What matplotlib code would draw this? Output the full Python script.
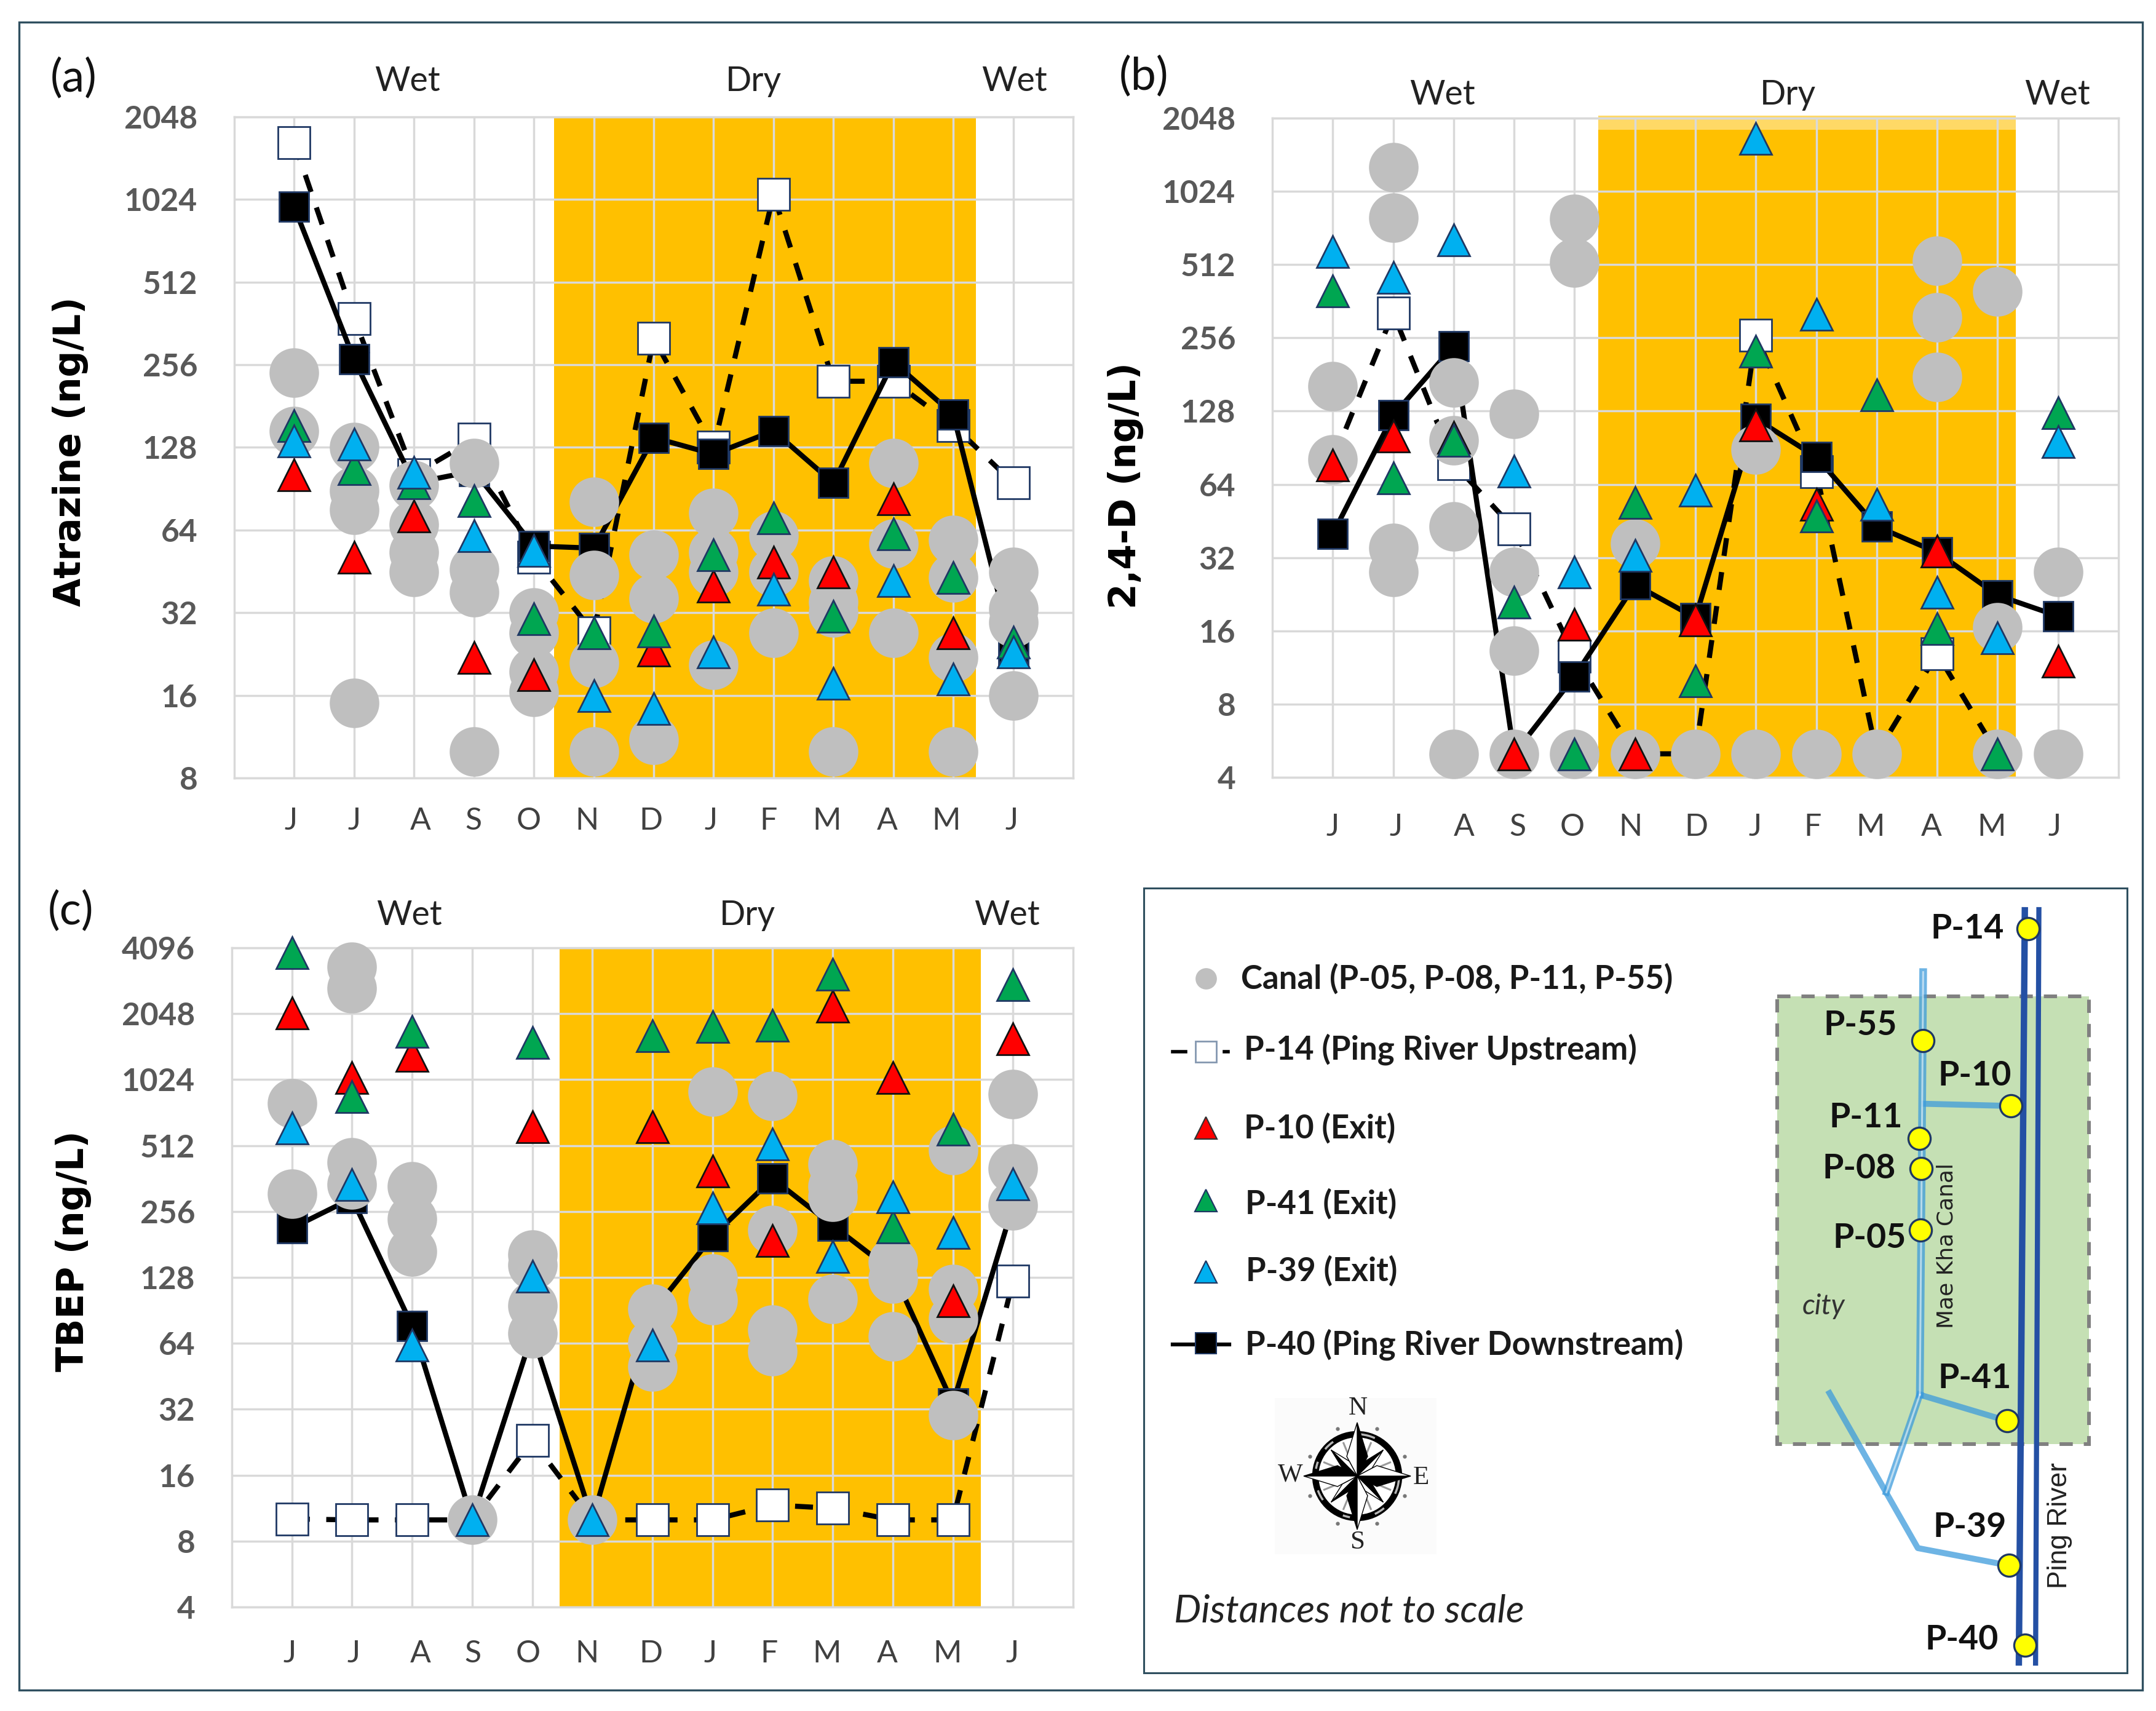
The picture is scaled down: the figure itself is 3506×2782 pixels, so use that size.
import numpy as np
import matplotlib
matplotlib.use("Agg")
import matplotlib.pyplot as plt
from matplotlib.patches import Rectangle, Circle, Polygon, Arc
from matplotlib.transforms import ScaledTranslation

W, H = 3506, 2782
nan = np.nan
months = ["J", "J", "A", "S", "O", "N", "D", "J", "F", "M", "A", "M", "J"]

# ---- panel (a) Atrazine
a_p14 = [1652, 378, 102, 137, 51, 27, 319, 128, 1067, 223, 223, 154, 95]
a_p40 = [962, 268, 95, 105, 56, 55, 139, 121, 147, 95, 262, 169, 23]
a_p10 = [102, 51, 72, 22, 19, nan, 23.4, 40, 49, 45, 83, 27, nan]
a_p41 = [154, 107, 95, 82, 30.4, 27, 27.5, 52, 71, 31, 62, 43, 25]
a_p39 = [135, 132, 104, 61, 54, 16, 14.3, 23, 39, 17.7, 42, 18.4, 23]
a_canal = [[239, 147], [128, 89, 76, 15], [93, 67, 53, 45], [112, 46, 38, 10],
           [32, 27, 19.5, 16.5], [81, 44, 21, 10], [52, 36, 11], [74, 53, 45, 20.7],
           [61, 45, 27], [42, 35, 32, 10], [112, 57, 27], [59, 43, 22, 10],
           [45, 33, 29.5, 16]]

# ---- panel (b) 2,4-D
b_p14 = [80, 324, 78, 42, 12.6, 5, 5, 262, 72, 5, 12.9, 5, nan]
b_p40 = [40, 123, 237, 5, 10.4, 24.8, 18.1, 119, 83, 43, 33.6, 22.4, 18.4]
b_p10 = [77, 101, 100, 5, 17, 5, 17.7, 112, 53, nan, 34, nan, 12]
b_p41 = [399, 68, 97, 21, 5, 54, 10, 226, 47.5, 149, 16.4, 5, 126]
b_p39 = [580, 455, 648, 72.6, 28, 32.7, 60.5, 1687, 320, 53, 23, 15, 96]
b_canal = [[162, 81], [1287, 797, 35, 28], [168, 97, 43, 5], [125, 28, 13.3, 5],
           [787, 523, 5], [36.5, 5], [5], [89, 5], [5], [5], [530, 311, 177],
           [396, 16.5, 5], [28, 5]]

# ---- panel (c) TBEP
c_p14 = [10.1, 10, 10, 10, 23, 10, 10, 10, 11.7, 11.3, 10, 10, 123]
c_p40 = [215, 294, 77, 10, 71, 10, 89, 197, 362, 221, 136, 34, 272]
c_p10 = [2064, 1045, 1323, nan, 625, nan, 625, 391, 189, 2210, 1045, 100, 1573]
c_p41 = [3900, 855, 1698, nan, 1509, nan, 1627, 1795, 1810, 3110, 217, 608, 2780]
c_p39 = [617, 340, 63, 10, 130, 10, 63, 265, 519, 159, 298, 205, 343]
c_canal = [[798, 308], [3350, 2670, 430, 340], [333, 237, 168], [10],
           [163, 146, 95, 71], [10], [92, 64, 50], [905, 126, 101],
           [862, 211, 74, 59], [420, 333, 298, 102], [150, 126, 69],
           [488, 113, 83, 30], [880, 403, 273]]

NAVY, BLACK, GREY = "#1F3864", "#000000", "#BFBFBF"
RED, GREEN, BLUE = "#FF0000", "#00A651", "#00B0F0"
ORANGE, GRID = "#FFC000", "#D9D9D9"
TICKC = "#595959"
LAT = ["Lato", "DejaVu Sans"]

fig = plt.figure(figsize=(W / 100, H / 100), dpi=100, facecolor="white")

# overlay in pixel coordinates for frames, headers and the schematic map
ov = fig.add_axes([0, 0, 1, 1], zorder=0)
ov.set_xlim(0, W); ov.set_ylim(H, 0); ov.axis("off")


def panel(box, ymin, ymax, band, ylabel, ylab_pos, label, label_pos, seasons, data, canal, shift, pad, strip=False):
    l, r, t, b = box
    ax = fig.add_axes([l / W, 1 - b / H, (r - l) / W, (b - t) / H], zorder=2)
    ax.patch.set_alpha(0)
    ax.set_yscale("log", base=2)
    ax.set_xlim(-1, 13); ax.set_ylim(ymin, ymax)
    x = np.arange(13)
    ax.axvspan(band[0], band[1], color=ORANGE, lw=0, zorder=0.5)
    if strip:
        ax.axvspan(band[0], band[1], ymin=0.982, ymax=1.004, color="#FFD966", lw=0, zorder=0.6, clip_on=False)
    ax.set_axisbelow(False)
    ax.grid(True, which="major", color=GRID, lw=2.5, zorder=1)
    for gl in ax.get_xgridlines() + ax.get_ygridlines():
        gl.set_zorder(1)
    for s in ax.spines.values():
        s.set_color(GRID); s.set_linewidth(2.5); s.set_zorder(1)

    yt = [ymin * 2 ** i for i in range(int(np.log2(ymax / ymin)) + 1)]
    ax.set_yticks(yt)
    ax.minorticks_off()
    ax.set_yticklabels([str(int(v)) for v in yt], fontweight="bold", family=LAT, fontsize=37, color=TICKC)
    ax.tick_params(axis="y", length=0, pad=43)
    ax.set_xticks(x); ax.set_xticklabels(months, family=LAT, fontsize=36, color="#404040")
    ax.tick_params(axis="x", length=0, pad=pad)
    for t_, dx in zip(ax.get_xticklabels(), shift):
        t_.set_transform(t_.get_transform() + ScaledTranslation(dx * 1.14 / 100, 0, fig.dpi_scale_trans))

    p14, p40, p10, p41, p39 = data
    ax.plot(x, p14, color=BLACK, lw=6, dashes=(3.5, 3.2), zorder=3, clip_on=False)
    ax.plot(x, p14, ls="none", marker="s", ms=37, mfc="white", mec=NAVY, mew=2, zorder=3.2, clip_on=False)
    ax.plot(x, p40, color=BLACK, lw=6, zorder=4, clip_on=False)
    ax.plot(x, p40, ls="none", marker="s", ms=35, mfc=BLACK, mec=NAVY, mew=2, zorder=4.2, clip_on=False)
    cx = np.concatenate([[i] * len(v) for i, v in enumerate(canal)])
    cy = np.concatenate(canal)
    ax.plot(cx, cy, ls="none", marker="o", ms=58, mfc=GREY, mec="none", zorder=5, clip_on=False)
    for vals, col, ec, z in ((p10, RED, "#111111", 6), (p41, GREEN, NAVY, 7), (p39, BLUE, NAVY, 8)):
        ax.plot(x, vals, ls="none", marker="^", ms=38, mfc=col, mec=ec, mew=2, zorder=z, clip_on=False)

    ov.text(ylab_pos[0], ylab_pos[1], ylabel, rotation=90, ha="center", va="center",
            fontsize=43, fontweight="bold", family="DejaVu Sans", color="black")
    ov.text(label_pos[0], label_pos[1], label, ha="center", va="center", fontsize=53, family=LAT, color="#111111")
    for (sx, sy, st) in seasons:
        ov.text(sx, sy, st, ha="center", va="center", fontsize=40, family=LAT, color="#222222")
    return ax


shift_a = [-5, 0, 9, -1, -7, -10, -4, -4, -7, -9, -9, -10, -2]
shift_b = [0, 4, 15, 5, -3, -6, 1, -1, -5, -9, -8, -9, -5]
shift_c = [-3, 2, 12, 1, -6, -8, -2, -3, -5, -8, -8, -8, -1]

panel((381, 1745, 190, 1265), 8, 2048, (4.34, 11.38), "Atrazine (ng/L)", (115, 734), "(a)", (120, 128),
      [(663, 132, "Wet"), (1225, 132, "Dry"), (1650, 132, "Wet")],
      (a_p14, a_p40, a_p10, a_p41, a_p39), a_canal, shift_a, 34)
panel((2069, 3445, 192, 1264), 4, 2048, (4.39, 11.3), "2,4-D (ng/L)", (1831, 790), "(b)", (1860, 125),
      [(2346, 154, "Wet"), (2907, 154, "Dry"), (3346, 154, "Wet")],
      (b_p14, b_p40, b_p10, b_p41, b_p39), b_canal, shift_b, 42, strip=True)
panel((377, 1745, 1541, 2613), 4, 4096, (4.45, 11.47), "TBEP (ng/L)", (120, 2034), "(c)", (115, 1482),
      [(666, 1488, "Wet"), (1215, 1488, "Dry"), (1638, 1488, "Wet")],
      (c_p14, c_p40, c_p10, c_p41, c_p39), c_canal, shift_c, 38)

# ---- frames
FR = "#2F4F5F"
ov.add_patch(Rectangle((31, 36), 3453, 2712, fc="none", ec=FR, lw=2.4))
ov.add_patch(Rectangle((1860, 1444), 1599, 1276, fc="white", ec=FR, lw=2.2))


def P(dx, dy):
    return 1800 + 1.088 * dx, 1400 + 0.881 * dy


# ---- legend panel
legend_rows = [("Canal (P-05, P-08, P-11, P-55)", 200, 217), ("P-14 (Ping River Upstream)", 205, 347),
               ("P-10 (Exit)", 205, 493), ("P-41 (Exit)", 207, 632), ("P-39 (Exit)", 208, 756),
               ("P-40 (Ping River Downstream)", 207, 892)]
for s, dx, dy in legend_rows:
    px, py = P(dx, dy)
    ov.text(px, py, s, ha="left", va="center", fontsize=38, fontweight="bold", family=LAT, color="#1a1a1a")
mx, _ = P(148, 0)
ov.plot([mx], [P(0, 217)[1]], marker="o", ms=25, mfc=GREY, mec="none", ls="none")
ov.plot([P(98, 0)[0], P(118, 0)[0]], [P(0, 352)[1]] * 2, color="black", lw=4)
ov.plot([P(176, 0)[0], P(181, 0)[0]], [P(0, 352)[1]] * 2, color="black", lw=4)
ov.plot([mx], [P(0, 352)[1]], marker="s", ms=25, mfc="white", mec="#8497B0", mew=2, ls="none")
for col, dy in ((RED, 493), (GREEN, 627), (BLUE, 758)):
    ov.plot([mx], [P(0, dy)[1]], marker="^", ms=26, mfc=col, mec=NAVY if col != RED else "#333333", mew=1.6, ls="none")
ov.plot([P(98, 0)[0], P(183, 0)[0]], [P(0, 892)[1]] * 2, color="black", lw=4.5)
ov.plot([mx], [P(0, 890)[1]], marker="s", ms=24, mfc="black", mec=NAVY, mew=1.5, ls="none")
ov.text(*P(100, 1385), "Distances not to scale", ha="left", va="center", fontsize=45, style="italic", family=LAT, color="#222222")

# ---- compass
ov.add_patch(Rectangle((2073, 2273), 263, 254, fc="#FBFBFB", ec="none"))
ccx, ccy = 2207, 2400
ctr = np.array([ccx, ccy], float)
ov.add_patch(Circle((ccx, ccy), 68, fc="white", ec="#000000", lw=7.5, zorder=2.5))
for a0, a1 in ((5, 25), (95, 115), (140, 155), (190, 200), (235, 250), (280, 290), (310, 325)):
    ov.add_patch(Arc((ccx, ccy), 136, 136, theta1=a0 - 90, theta2=a1 - 90, color="#B5B5B5", lw=2.5, zorder=2.6))
tick_ang = np.deg2rad(22.5 + 45 * np.arange(8))
ov.plot(ccx + 83 * np.sin(tick_ang), ccy - 83 * np.cos(tick_ang), ls="none", marker="o", ms=3.5, color="#777777", zorder=2.6)
for k in range(8):
    ang = k * np.pi / 4 + np.pi / 8
    tip = ctr + 58 * np.array([np.sin(ang), -np.cos(ang)])
    ov.plot([ccx, tip[0]], [ccy, tip[1]], color="#999999", lw=2.2, zorder=2.7)
for k in range(8):
    ang = k * np.pi / 4
    card = k % 2 == 0
    L, sa, sw = (87, 32, 17) if card else (60, 26, 8)
    al = np.array([np.sin(ang), -np.cos(ang)])
    ac = np.array([np.cos(ang), np.sin(ang)])
    tip = ctr + L * al
    s1 = ctr + sa * al + sw * ac
    s2 = ctr + sa * al - sw * ac
    ov.add_patch(Polygon([ctr, s1, tip], fc="black" if card else "white", ec="black", lw=1, zorder=3))
    ov.add_patch(Polygon([ctr, s2, tip], fc="white" if card else "black", ec="black", lw=1, zorder=3))
for s, tx, ty in (("N", 2208, 2290), ("S", 2207, 2508), ("W", 2098, 2398), ("E", 2311, 2403)):
    ov.text(tx, ty, s, ha="center", va="center", fontsize=31, family="Liberation Serif", color="#222222")

# ---- schematic map
x0, y0 = P(1002, 250); x1, y1 = P(1468, 1076)
ov.add_patch(Rectangle((x0, y0), x1 - x0, y1 - y0, fc="#C5E0B4", ec="#808080", lw=4.3, ls=(0, (3.6, 3))))
for pts, lw in (([(1372, 85), (1363, 1485)], 7.5), ([(1393, 85), (1388, 1485)], 6)):
    xy = np.array([P(*q) for q in pts])
    ov.plot(xy[:, 0], xy[:, 1], color="#2450A4", lw=lw, solid_capstyle="butt", zorder=2)
CAN = "#3D9BDC"
for pts, lw, dbl in (([(1220, 205), (1217, 700), (1215, 985)], 9, True), ([(1222, 448), (1350, 452)], 7, False),
                     ([(1215, 985), (1345, 1033)], 7, False), ([(1215, 985), (1165, 1165)], 8, True),
                     ([(1080, 982), (1212, 1268), (1348, 1300)], 7, False)):
    xy = np.array([P(*q) for q in pts])
    ov.plot(xy[:, 0], xy[:, 1], color=CAN, lw=lw, alpha=0.75, zorder=2.2)
    if dbl:
        ov.plot(xy[:, 0], xy[:, 1], color="white", lw=2.2, alpha=0.55, zorder=2.3)
nodes = [(1377, 125), (1220, 332), (1351, 452), (1214, 512), (1217, 568), (1216, 681), (1346, 1033), (1348, 1300), (1372, 1447)]
xy = np.array([P(*q) for q in nodes])
ov.plot(xy[:, 0], xy[:, 1], ls="none", marker="o", ms=26, mfc="#FFFF00", mec="#1F3864", mew=2.4, zorder=3)
for s, dx, dy in (("P-14", 1286, 125), ("P-55", 1126, 303), ("P-10", 1297, 396), ("P-11", 1134, 473),
                  ("P-08", 1124, 567), ("P-05", 1140, 696), ("P-41", 1297, 955), ("P-39", 1290, 1229), ("P-40", 1278, 1437)):
    ov.text(*P(dx, dy), s, ha="center", va="center", fontsize=40, fontweight="bold", family=LAT, color="#111111", zorder=4)
ov.text(*P(1071, 822), "city", ha="center", va="center", fontsize=33, style="italic", family=LAT, color="#333333", zorder=4)
ov.text(*P(1255, 710), "Mae Kha Canal", rotation=90, ha="center", va="center", fontsize=26, family="DejaVu Sans", color="#222222", zorder=4)
ov.text(*P(1424, 1227), "Ping River", rotation=90, ha="center", va="center", fontsize=32, family="Liberation Sans", color="#222222", zorder=4)

fig.savefig("out.png", dpi=100)
